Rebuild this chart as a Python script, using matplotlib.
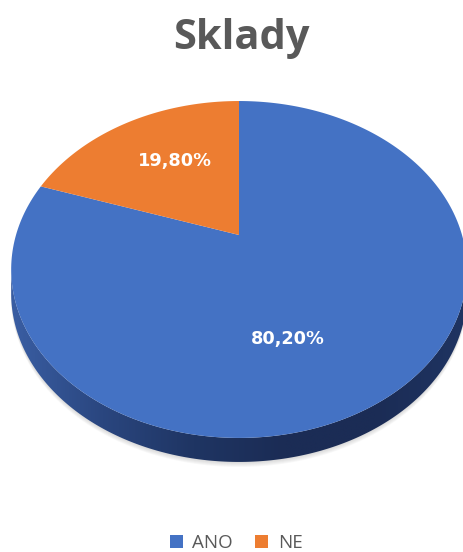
import numpy as np
import matplotlib
matplotlib.use("Agg")
import matplotlib.pyplot as plt
from matplotlib.transforms import Transform, Affine2D
from matplotlib.path import Path
from matplotlib.patches import Polygon
from matplotlib.colors import LinearSegmentedColormap

# ---- data ----
categories = ["ANO", "NE"]
values = [80.20, 19.80]
value_labels = ["80,20%", "19,80%"]
colors = ["#4472C4", "#ED7D31"]
title = "Sklady"

# ---- 3D tilt (perspective) parameters ----
A, B, C = 223.0, 161.4, 0.2047
DEPTH = 24.0


class Tilt(Transform):
    input_dims = output_dims = 2
    is_separable = False
    has_inverse = False

    def transform_non_affine(self, values):
        xy = np.asarray(values, float).reshape(-1, 2)
        d = 1.0 + C * xy[:, 1]
        return np.column_stack([A * xy[:, 0] / d, B * xy[:, 1] / d])

    def transform_path_non_affine(self, path):
        polys = path.to_polygons(transform=Affine2D().scale(1000.0), closed_only=False)
        verts, codes = [], []
        for p in polys:
            p = np.asarray(p, float) / 1000.0
            if len(p) == 0:
                continue
            c = np.full(len(p), Path.LINETO, dtype=Path.code_type)
            c[0] = Path.MOVETO
            verts.append(p)
            codes.append(c)
        if not verts:
            return Path(np.zeros((0, 2)))
        v = np.concatenate(verts)
        cc = np.concatenate(codes)
        return Path(self.transform_non_affine(v), cc)


tilt = Tilt()

fig = plt.figure(figsize=(4.63, 5.52), dpi=100)
fig.patch.set_facecolor("white")
ax = fig.add_axes([0, 0, 1, 1])

wedges, texts, autotexts = ax.pie(
    values, colors=colors, startangle=90, counterclock=False,
    autopct="%1.1f%%", pctdistance=0.6,
    wedgeprops=dict(linewidth=0, antialiased=True),
)
for w in wedges:
    w.set_transform(tilt + ax.transData)
    w.set_zorder(3)

# label placement (pre-projection unit-disc coordinates)
label_pos = {"ANO": (289.0, 0.60), "NE": (122.0, 0.60)}
for cat, lab, t in zip(categories, value_labels, autotexts):
    ang, r = label_pos[cat]
    t.set_text(lab)
    t.set_position((r * np.cos(np.radians(ang)), r * np.sin(np.radians(ang))))
    t.set_transform(tilt + ax.transData)
    t.set_color("white")
    t.set_fontweight("bold")
    t.set_fontsize(12.8)
    t.set_family("DejaVu Sans")
    t.set_zorder(5)

# ---- side of the 3D disc ----
th = np.linspace(np.pi / 2, np.pi / 2 + 2 * np.pi, 1441)
outline = tilt.transform_non_affine(np.column_stack([np.cos(th), np.sin(th)]))
half = len(th) // 2
il = np.argmin(outline[:half, 0])
ir = half + np.argmax(outline[half:, 0])
lower = outline[il:ir + 1]
shifted = lower[::-1] - np.array([0, DEPTH])
side_poly = np.vstack([lower, shifted])

# soft shadow under the side
for k in range(1, 6):
    sh = np.vstack([lower, lower[::-1] - np.array([0, DEPTH + k])])
    ax.add_patch(Polygon(sh, closed=True, facecolor="#808080", edgecolor="none",
                         alpha=0.06, zorder=1))

side = Polygon(side_poly, closed=True, facecolor="none", edgecolor="none", zorder=2)
ax.add_patch(side)
cmap = LinearSegmentedColormap.from_list(
    "side", ["#3a5ea3", "#2a467f", "#1f3563", "#1b2c55", "#1b2c55", "#1f3462"])
xmin, xmax = side_poly[:, 0].min(), side_poly[:, 0].max()
ymin, ymax = side_poly[:, 1].min(), side_poly[:, 1].max()
grad = np.linspace(0, 1, 256).reshape(1, -1)
im = ax.imshow(grad, cmap=cmap, extent=(xmin, xmax, ymin, ymax), aspect="auto",
               zorder=2, interpolation="bilinear")
im.set_clip_path(side)

ax.set_xlim(-239, 224)
ax.set_ylim(-317, 235)
ax.set_aspect("auto")
ax.axis("off")

fig.text(241 / 463, 1 - 49 / 552, title, ha="center", va="baseline",
         fontsize=30, fontweight="bold", color="#595959", family="Open Sans")

leg = fig.legend(wedges, categories, loc="center", bbox_to_anchor=(0.51, 1 - 543 / 552),
                 ncol=2, frameon=False, handlelength=0.7, handleheight=0.7,
                 handletextpad=0.5, columnspacing=1.2,
                 prop={"family": "Open Sans", "size": 13.5})
for t in leg.get_texts():
    t.set_color("#595959")

fig.savefig("out.png", dpi=100)
